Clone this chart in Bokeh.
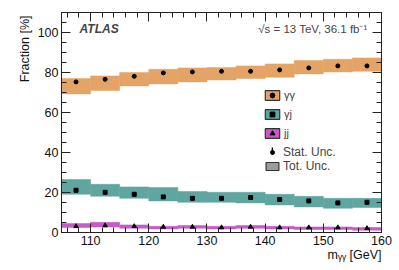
import math
from bokeh.plotting import figure
from bokeh.models import (ColumnDataSource, FixedTicker, LinearAxis, Legend, LegendItem, Label,
                          Title)
from bokeh.embed import file_html
from bokeh.resources import INLINE

# ---- data ----
mass_edges = [105, 110, 115, 120, 125, 130, 135, 140, 145, 150, 155, 160]

gg_val = [75.3, 76.6, 78.1, 79.8, 80.3, 80.6, 80.6, 81.3, 82.3, 83.3, 83.3]
gg_hi = [77.0, 78.3, 80.0, 81.6, 82.3, 82.5, 83.3, 84.3, 86.0, 86.6, 87.3]
gg_lo = [69.3, 71.0, 73.3, 74.3, 75.3, 76.3, 77.0, 77.6, 79.3, 80.3, 80.6]

gj_val = [21.1, 20.1, 19.1, 17.8, 17.1, 17.1, 17.5, 16.5, 15.8, 14.8, 15.1]
gj_hi = [26.5, 24.1, 22.8, 22.5, 20.5, 20.1, 20.1, 19.1, 18.1, 17.1, 17.1]
gj_lo = [19.1, 18.1, 17.1, 15.8, 15.1, 15.1, 14.8, 13.8, 12.8, 12.1, 12.5]

jj_val = [3.1, 3.5, 3.1, 2.8, 2.8, 2.5, 2.8, 2.5, 2.5, 2.5, 2.1]
jj_hi = [4.5, 5.1, 3.8, 3.1, 3.5, 3.1, 3.5, 3.1, 2.8, 2.8, 2.5]
jj_lo = [2.5, 2.8, 2.1, 1.8, 2.1, 1.8, 2.1, 1.8, 1.5, 1.5, 1.1]

x_ticks = [110, 120, 130, 140, 150, 160]
y_ticks = [0, 20, 40, 60, 80, 100]

series_labels = ["γγ", "γj", "jj"]
unc_labels = ["Stat. Unc.", "Tot. Unc."]

# ---- styles ----
FONT = "Liberation Sans"
C_GG = "#E3A465"
C_GJ = "#5FA5A0"
C_JJ = "#C65AC6"
C_TOT = "#9C9C9C"
AXC = "#222222"

left = mass_edges[:-1]
right = mass_edges[1:]
centers = [(a + b) / 2 for a, b in zip(left, right)]

p = figure(frame_width=320, frame_height=220, x_range=(105, 160), y_range=(0, 110),
           output_backend="svg", toolbar_location=None,
           min_border_left=61, min_border_right=12, min_border_top=12, min_border_bottom=30)
p.xgrid.visible = False
p.ygrid.visible = False
p.outline_line_color = AXC
p.background_fill_color = "white"
p.border_fill_color = "white"

xt = FixedTicker(ticks=x_ticks, minor_ticks=list(range(106, 161, 2)))
yt = FixedTicker(ticks=y_ticks, minor_ticks=list(range(0, 111, 5)))


def style_axis(ax, ticks, show_labels):
    ax.axis_line_color = AXC
    ax.major_tick_line_color = AXC
    ax.minor_tick_line_color = AXC
    ax.major_tick_in = 9
    ax.major_tick_out = 0
    ax.minor_tick_in = 5
    ax.minor_tick_out = 0
    ax.major_label_text_font = FONT
    ax.major_label_text_color = "#111111"
    ax.major_label_text_font_size = "12.5px"
    if show_labels:
        ax.major_label_standoff = 3
    else:
        ax.major_label_standoff = 0
        ax.major_label_overrides = {t: "" for t in ticks}


p.xaxis.ticker = xt
p.yaxis.ticker = yt
style_axis(p.xaxis[0], x_ticks, True)
style_axis(p.yaxis[0], y_ticks, True)

top_ax = LinearAxis(ticker=xt)
style_axis(top_ax, x_ticks, False)
p.add_layout(top_ax, "above")
right_ax = LinearAxis(ticker=yt)
style_axis(right_ax, y_ticks, False)
p.add_layout(right_ax, "right")

# ---- axis titles ----
ytitle = Title(text="Fraction [%]", align="right", text_font=FONT, text_font_size="12.5px",
               text_font_style="normal", text_color="#111111", standoff=0)
if "padding" in Title.properties():
    ytitle.padding = 3
p.add_layout(ytitle, "left")
xtitle = Title(text="mᵧᵧ [GeV]", align="right", text_font=FONT, text_font_size="12.5px",
               text_font_style="normal", text_color="#111111", standoff=-3)
p.add_layout(xtitle, "below")

# ---- bands ----
for lo, hi, col in [(gg_lo, gg_hi, C_GG), (gj_lo, gj_hi, C_GJ), (jj_lo, jj_hi, C_JJ)]:
    src = ColumnDataSource(dict(left=left, right=right, bottom=lo, top=hi))
    p.quad(left="left", right="right", bottom="bottom", top="top", source=src,
           fill_color=col, line_color=col, line_width=0.5)

# ---- points ----
s_gg = p.scatter(x=centers, y=gg_val, marker="circle", size=4, color="black")
s_gj = p.scatter(x=centers, y=gj_val, marker="square", size=4, color="black")
s_jj = p.scatter(x=centers, y=jj_val, marker="triangle", size=4.5, color="black")

# ---- legend proxies (one row of real data, renderer hidden, still drawn in legend) ----
def box(col, lo, hi, line="#333333"):
    src = ColumnDataSource(dict(left=left[:1], right=right[:1], bottom=lo[:1], top=hi[:1]))
    r = p.quad(left="left", right="right", bottom="bottom", top="top", source=src,
               fill_color=col, line_color=line, line_width=1.2)
    r.visible = False
    return r


b_gg = box(C_GG, gg_lo, gg_hi)
b_gj = box(C_GJ, gj_lo, gj_hi)
b_jj = box(C_JJ, jj_lo, jj_hi)
b_tot = box(C_TOT, gg_lo, gg_hi)
b_bar = box("black", gg_lo, gg_hi, line=None)
stat_src = ColumnDataSource(dict(x=centers[:1], y=gg_val[:1]))
stat_dot = p.scatter(x="x", y="y", source=stat_src, marker="circle", size=5, color="black")
stat_dot.visible = False

common = dict(padding=0, margin=0, label_standoff=3, label_text_font=FONT,
              border_line_color=None, background_fill_alpha=0, click_policy="none",
              inactive_fill_alpha=0)
leg1 = Legend(items=[LegendItem(label=series_labels[0], renderers=[b_gg, s_gg]),
                     LegendItem(label=series_labels[1], renderers=[b_gj, s_gj]),
                     LegendItem(label=series_labels[2], renderers=[b_jj, s_jj])],
              location=(202, 93), glyph_width=18, glyph_height=12, label_height=12,
              spacing=7, label_text_font_size="11px", **common)
leg2 = Legend(items=[LegendItem(label=unc_labels[0], renderers=[stat_dot]),
                     LegendItem(label=unc_labels[1], renderers=[b_tot])],
              location=(203, 59), glyph_width=16, glyph_height=10, label_height=11,
              spacing=-2, label_text_font_size="12px", **common)
# thin vertical bar of the "Stat. Unc." symbol
leg3 = Legend(items=[LegendItem(label=" ", renderers=[b_bar])],
              location=(210, 77), glyph_width=2, glyph_height=9, label_height=9,
              spacing=0, label_text_font_size="2px", **common)
p.add_layout(leg1, "center")
p.add_layout(leg3, "center")
p.add_layout(leg2, "center")

# ---- texts ----
p.add_layout(Label(x=108.1, y=102, text="ATLAS", text_font=FONT, text_font_style="bold italic",
                   text_font_size="12px", text_baseline="middle", text_align="left"))
p.add_layout(Label(x=157.6, y=101.6, text="√s = 13 TeV, 36.1 fb⁻¹", text_font=FONT,
                   text_font_size="11.5px", text_baseline="middle", text_align="right"))

open("out.html", "w").write(file_html(p, INLINE))
